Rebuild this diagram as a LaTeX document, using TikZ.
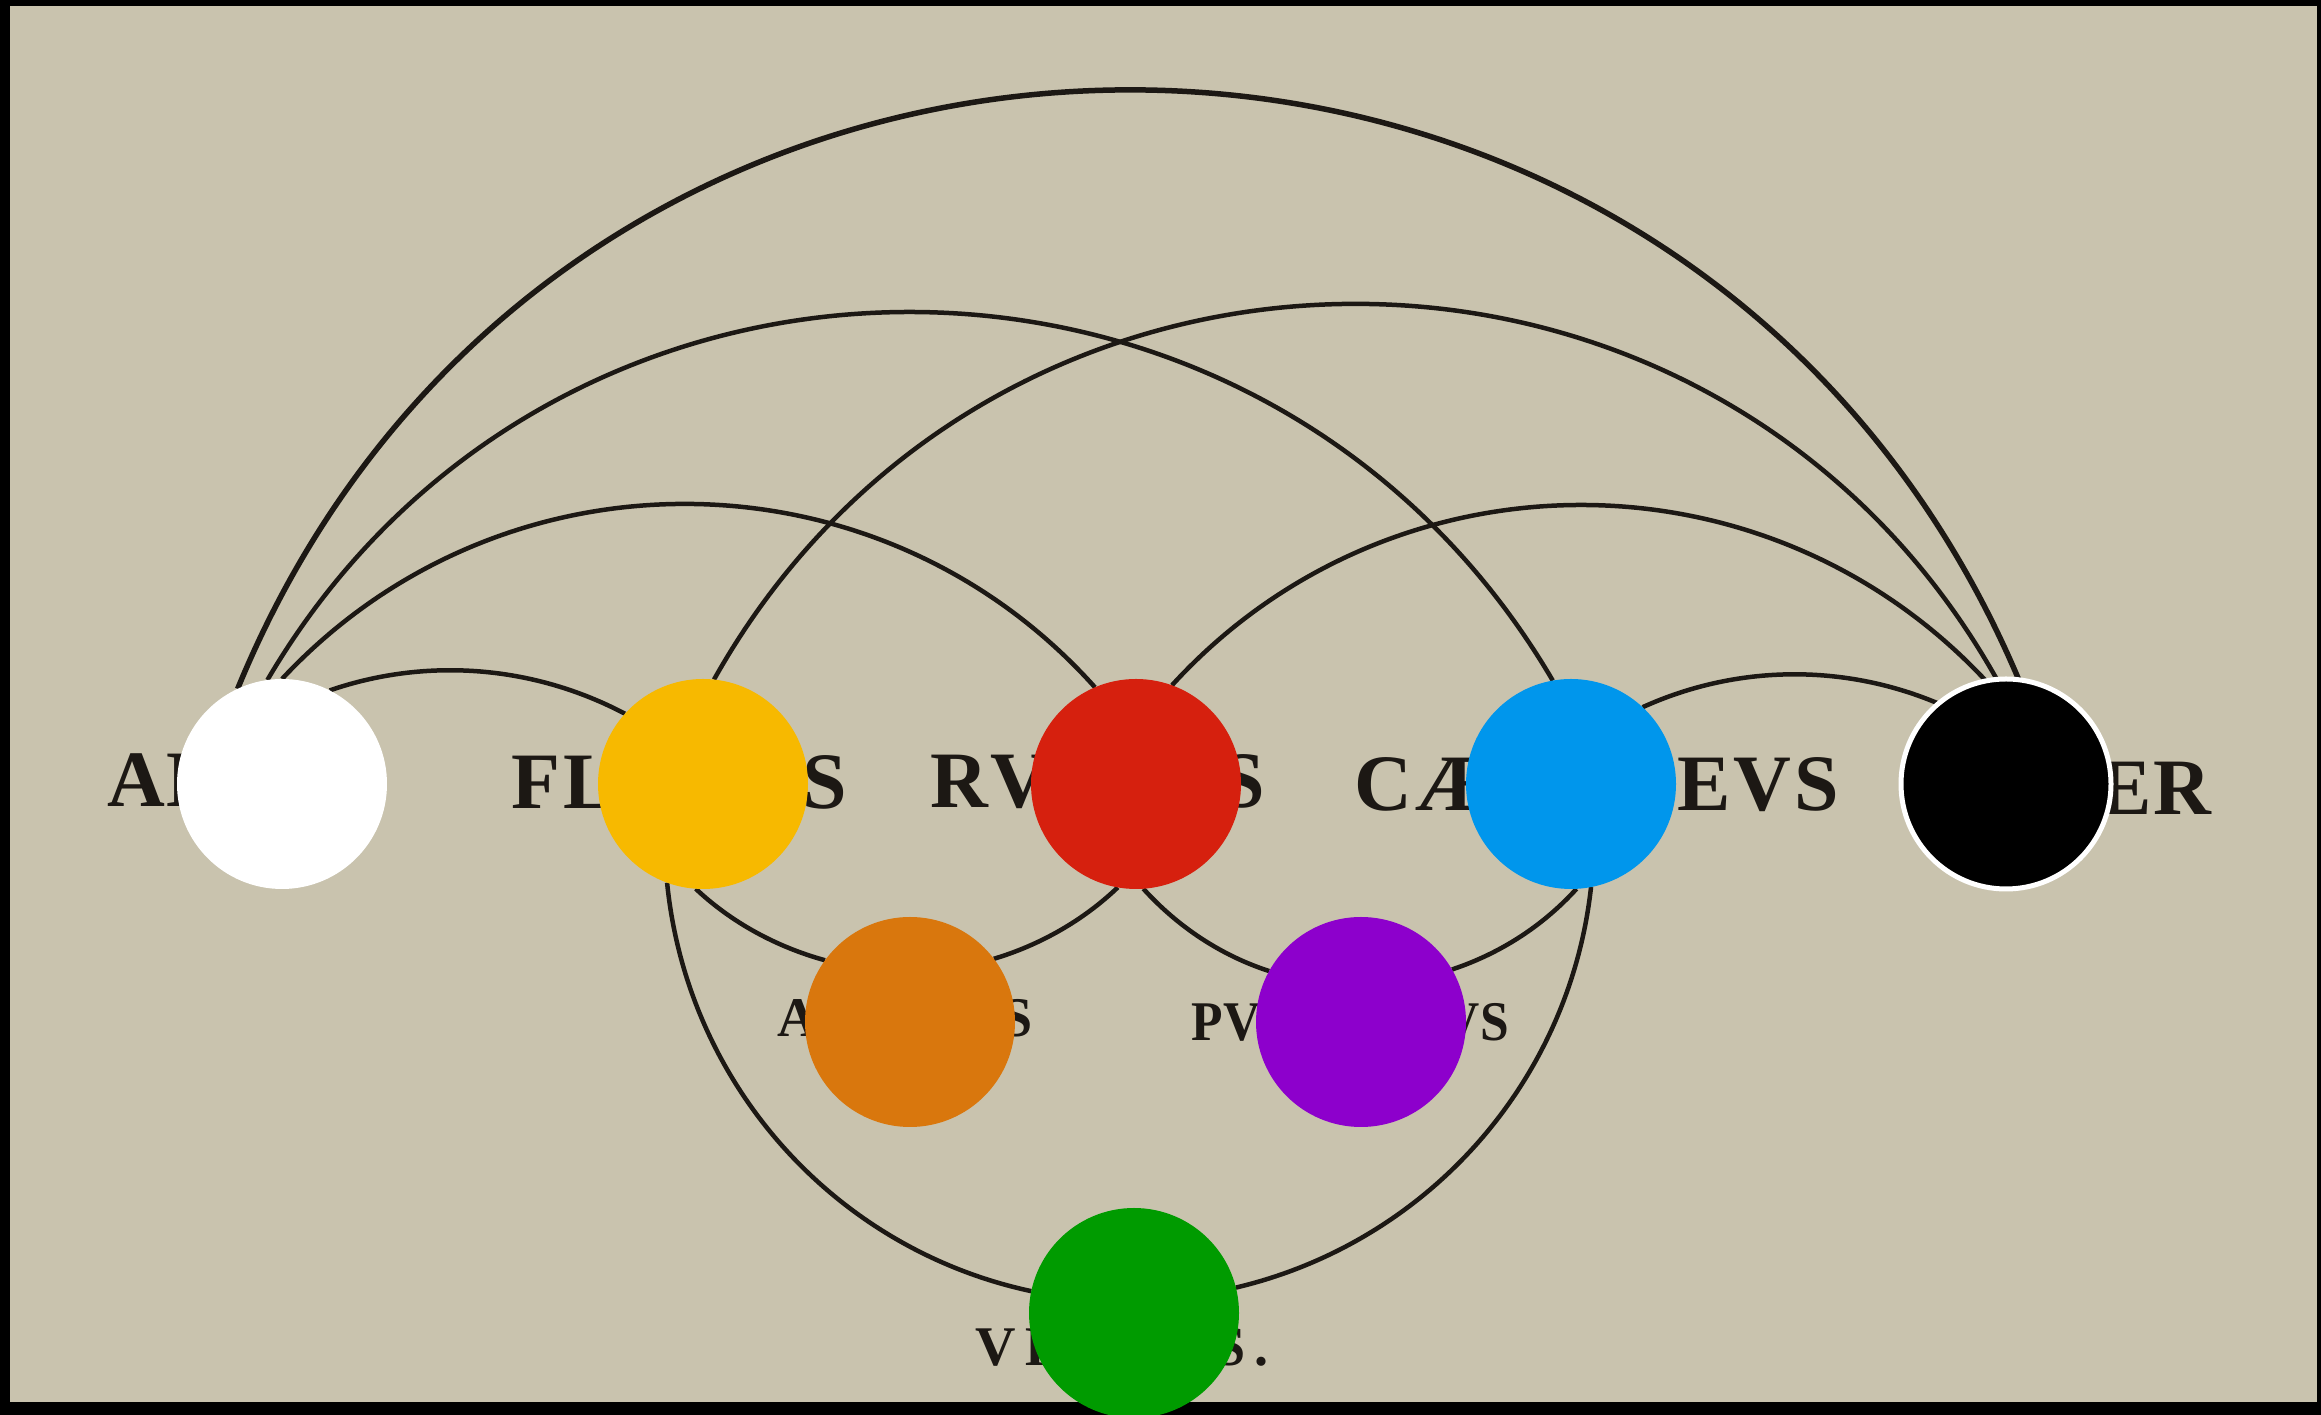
\documentclass[tikz,border=0pt]{standalone}
\usepackage{fontspec}
\setmainfont{Liberation Serif}
\pgfdeclarelayer{paper}
\pgfdeclarelayer{lines}
\pgfsetlayers{paper,lines,main}
\definecolor{paper}{RGB}{201,195,174}
\definecolor{ink}{RGB}{28,24,20}
\definecolor{cyellow}{RGB}{247,185,0}
\definecolor{cred}{RGB}{214,32,14}
\definecolor{cblue}{RGB}{0,150,236}
\definecolor{corange}{RGB}{217,119,13}
\definecolor{cpurple}{RGB}{141,0,204}
\definecolor{cgreen}{RGB}{0,155,0}
\newcommand{\spreadword}[2]{\makebox[#1][s]{#2}}
\begin{document}
\begin{tikzpicture}[x=1pt,y=1pt,
  colordot/.style={circle, minimum size=210pt, inner sep=0pt, outer sep=0pt, draw=none},
  bigword/.style={font=\fontsize{80}{90}\selectfont\bfseries, text=ink, inner sep=0pt},
  smallword/.style={font=\fontsize{56}{64}\selectfont\bfseries, text=ink, inner sep=0pt},
  arcline/.style={draw=ink, line width=4.5pt},
  bigarc/.style={draw=ink, line width=5.5pt}]
\useasboundingbox (0,0) rectangle (2321,1415);
% colour circles
\node[colordot, fill=white]   (w) at (282,631)  {};
\node[colordot, fill=cyellow] (y) at (703,631)  {};
\node[colordot, fill=cred]    (r) at (1136,631) {};
\node[colordot, fill=cblue]   (b) at (1571,631) {};
\node[colordot, fill=black, draw=white, line width=5pt] (k) at (2006,631) {};
\node[colordot, fill=corange] (o) at (910,393)  {};
\node[colordot, fill=cpurple] (p) at (1361,393) {};
\node[colordot, fill=cgreen]  (g) at (1134,102) {};
\begin{pgfonlayer}{paper}
  \fill[black] (0,0) rectangle (2321,1415);
  \fill[paper] (10,13) rectangle (2317,1409);
  \node[bigword, anchor=base west] (talbus) at (107,608) {\spreadword{275pt}{A\hfill L\hfill B\hfill V\hfill S}};
  \node[bigword, anchor=base west] (tflavus) at (511,606) {\spreadword{336pt}{F\hfill L\hfill A\hfill V\hfill V\hfill S}};
  \node[bigword, anchor=base west] (trubeus) at (930,607) {\spreadword{335pt}{R\hfill V\hfill B\hfill E\hfill V\hfill S}};
  \node[bigword, anchor=base west] (tcaeruleus) at (1354,604) {\spreadword{485pt}{C\hfill Æ\hfill R\hfill V\hfill L\hfill E\hfill V\hfill S}};
  \node[bigword, anchor=base east] (tniger) at (2211,600) {\spreadword{265pt}{N\hfill I\hfill G\hfill E\hfill R}};
  \node[smallword, anchor=base west] (taureus) at (777,378) {\spreadword{256pt}{A\hfill V\hfill R\hfill E\hfill V\hfill S}};
  \node[smallword, anchor=base west] (tpurpureus) at (1191,374) {\scalebox{0.92}[1]{\spreadword{345.6pt}{P\hfill V\hfill R\hfill P\hfill V\hfill R\hfill E\hfill V\hfill S}}};
  \node[smallword, anchor=base west] (tviridis) at (975,49) {\spreadword{293pt}{V\hfill I\hfill R\hfill I\hfill D\hfill I\hfill S\hfill .}};
\end{pgfonlayer}
\begin{pgfonlayer}{lines}
  % upper arcs
  \draw[bigarc]  (w.115) .. controls +(67.7:858.5) and +(112.9:858.5) .. (k.83);
  \draw[arcline] (w.98)  .. controls +(59.6:569.4) and +(120.4:569.4) .. (b.100);
  \draw[arcline] (y.84)  .. controls +(60.7:574.3) and +(119.3:574.3) .. (k.95);
  \draw[arcline] (w.90)  .. controls +(47.0:323.6) and +(131.8:323.6) .. (r.113);
  \draw[arcline] (r.70)  .. controls +(47.6:323.2) and +(133.0:323.2) .. (k.101);
  \draw[arcline] (w.63)  .. controls +(19.0:103.2) and +(152.2:103.2) .. (y.138);
  \draw[arcline] (b.47)  .. controls +(24.4:103.2) and +(157.1:103.2) .. (k.130);
  % lower arcs
  \draw[arcline] (y.266) .. controls +(-43.3:49.8) and +(164.6:49.8) .. (o.144);
  \draw[arcline] (o.37)  .. controls +(16.7:48.1) and +(223.7:48.1) .. (r.260);
  \draw[arcline] (r.274) .. controls +(-47.8:51.1) and +(162.0:51.1) .. (p.151);
  \draw[arcline] (p.30)  .. controls +(18.4:50.5) and +(227.8:50.5) .. (b.273);
  \draw[arcline] (y.250) .. controls +(275.7:201.9) and +(167.9:201.9) .. (g.168);
  \draw[arcline] (g.14)  .. controls +(13.3:196.5) and +(263.7:196.5) .. (b.281);
\end{pgfonlayer}
\end{tikzpicture}
\end{document}
